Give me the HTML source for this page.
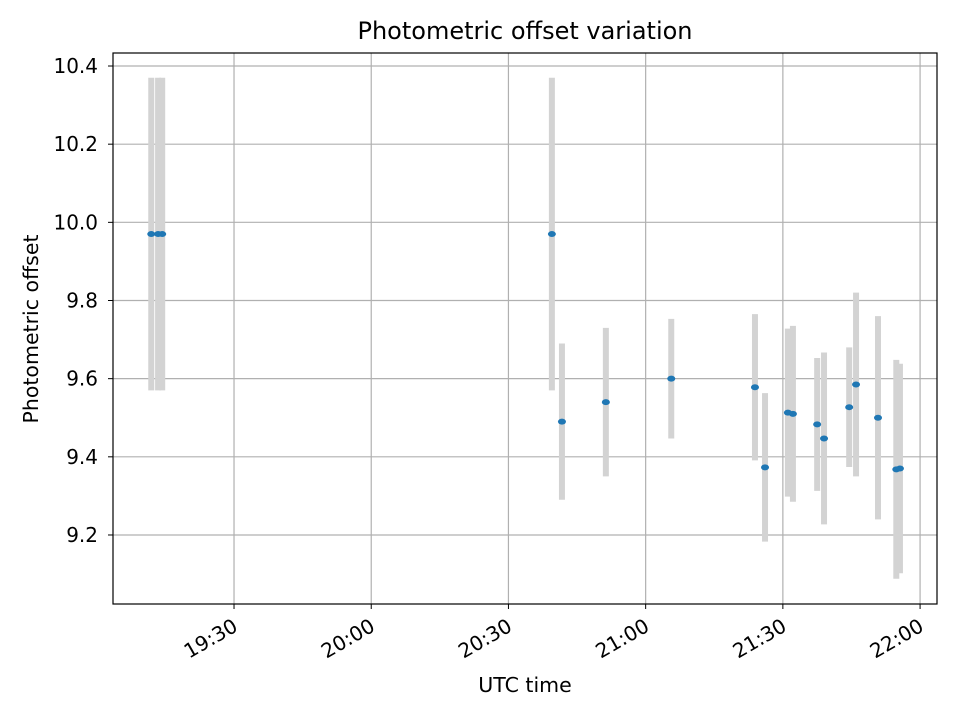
<!DOCTYPE html>
<html><head><meta charset="utf-8"><style>
body{margin:0;background:#fff;}
svg text{font-family:"DejaVu Sans","Liberation Sans",sans-serif;fill:#000;}
</style></head><body>
<svg id="chart" width="960" height="720" xmlns="http://www.w3.org/2000/svg">
<rect width="960" height="720" fill="#fff"/>
<g id="grid"></g>
<g id="bars"></g>
<g id="pts"></g>
<rect x="113" y="53" width="824" height="551" fill="none" stroke="#000" stroke-width="1.2"/>
<g id="axes"></g>
<text x="525" y="39" font-size="24" text-anchor="middle">Photometric offset variation</text>
<text x="525" y="692" font-size="20.5" text-anchor="middle">UTC time</text>
<text transform="translate(38,329) rotate(-90)" font-size="20.5" text-anchor="middle">Photometric offset</text>
</svg>
<script>
// minutes after 19:00 UTC
const times=[11.9,13.4,14.3,99.5,101.7,111.3,125.6,143.9,146.1,151.1,152.2,157.5,159.0,164.5,166.0,170.8,174.8,175.6];
const offsets=[9.97,9.97,9.97,9.97,9.49,9.54,9.60,9.578,9.373,9.513,9.51,9.483,9.447,9.527,9.585,9.50,9.368,9.37];
const errors=[0.4,0.4,0.4,0.4,0.2,0.19,0.153,0.187,0.19,0.215,0.225,0.17,0.22,0.153,0.235,0.26,0.28,0.268];
const xTicks=[30,60,90,120,150,180];
const xTickLabels=["19:30","20:00","20:30","21:00","21:30","22:00"];
const yTicks=[9.2,9.4,9.6,9.8,10.0,10.2,10.4];
const yTickLabels=["9.2","9.4","9.6","9.8","10.0","10.2","10.4"];

const L=113,R=937,T=53,B=604,x0=3.54,x1=183.7,y0=9.0234,y1=10.4333;
const X=v=>L+(v-x0)/(x1-x0)*(R-L);
const Y=v=>B-(v-y0)/(y1-y0)*(B-T);
const NS="http://www.w3.org/2000/svg";
function mk(tag,attrs,parent){const e=document.createElementNS(NS,tag);for(const k in attrs)e.setAttribute(k,attrs[k]);document.getElementById(parent).appendChild(e);return e;}

xTicks.forEach((t,i)=>{
  const g=mk('line',{x1:X(t),x2:X(t),y1:T,y2:B,stroke:'#b0b0b0','stroke-width':1.2},'grid');
  
  
  const tk=mk('line',{x1:X(t),x2:X(t),y1:B,y2:B+5,stroke:'#000','stroke-width':1},'axes');
  
  
  const tx=mk('text',{transform:`translate(${X(t)+5},${B+26}) rotate(-30)`,'font-size':20,'text-anchor':'end'},'axes');
  tx.textContent=xTickLabels[i];
  
  
});
yTicks.forEach((t,i)=>{
  const g=mk('line',{x1:L,x2:R,y1:Y(t),y2:Y(t),stroke:'#b0b0b0','stroke-width':1.2},'grid');
  
  
  const tk=mk('line',{x1:L-5,x2:L,y1:Y(t),y2:Y(t),stroke:'#000','stroke-width':1},'axes');
  
  
  const tx=mk('text',{x:L-15,y:Y(t)+7,'font-size':20,'text-anchor':'end'},'axes');
  tx.textContent=yTickLabels[i];
  
  
});
times.forEach((t,i)=>{
  const b=mk('line',{x1:X(t),x2:X(t),y1:Y(offsets[i]+errors[i]),y2:Y(offsets[i]-errors[i]),stroke:'#d3d3d3','stroke-width':6},'bars');
  
  
});
times.forEach((t,i)=>{
  const p=mk('ellipse',{cx:X(t),cy:Y(offsets[i]),rx:4,ry:3,fill:'#1f77b4'},'pts');
  
  
});
</script>
</body></html>
